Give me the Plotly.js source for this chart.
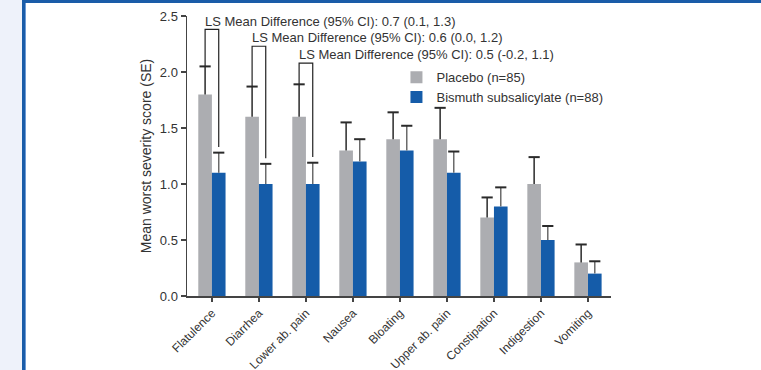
<!DOCTYPE html>
<html>
<head>
<meta charset="utf-8">
<script src="https://cdn.plot.ly/plotly-3.0.1.min.js"></script>
<style>
  html, body { margin: 0; padding: 0; background: #ffffff; }
  #wrap { position: relative; width: 761px; height: 370px; overflow: hidden; background: #ffffff; }
  #side { position: absolute; left: 0; top: 0; width: 22px; height: 370px; background: #eef2fa; }
  #bar1 { position: absolute; left: 22px; top: 0; width: 3px; height: 370px; background: #1a5ca8; }
  #bar2 { position: absolute; left: 25px; top: 0; width: 1px; height: 370px; background: #6d9bd6; }
  #topline { position: absolute; left: 22px; top: 0; width: 739px; height: 3px; background: #1a5ca8; }
  #chart { position: absolute; left: 0; top: 0; width: 761px; height: 370px; }
</style>
</head>
<body>
<div id="wrap">
  <div id="side"></div>
  <div id="bar1"></div>
  <div id="bar2"></div>
  <div id="topline"></div>
  <div id="chart"></div>
</div>
<script>
// ---- data ----
const categories = ["Flatulence", "Diarrhea", "Lower ab. pain", "Nausea", "Bloating",
                    "Upper ab. pain", "Constipation", "Indigestion", "Vomiting"];
const placeboName = "Placebo (n=85)";
const bssName = "Bismuth subsalicylate (n=88)";
const placeboMean = [1.8, 1.6, 1.6, 1.3, 1.4, 1.4, 0.7, 1.0, 0.3];
const placeboSE   = [0.25, 0.27, 0.29, 0.25, 0.24, 0.28, 0.18, 0.24, 0.16];
const bssMean     = [1.1, 1.0, 1.0, 1.2, 1.3, 1.1, 0.8, 0.5, 0.2];
const bssSE       = [0.18, 0.18, 0.19, 0.20, 0.22, 0.19, 0.17, 0.125, 0.11];
const diffIndex   = [0, 1, 2];
const diffLabels  = ["LS Mean Difference (95% CI): 0.7 (0.1, 1.3)",
                     "LS Mean Difference (95% CI): 0.6 (0.0, 1.2)",
                     "LS Mean Difference (95% CI): 0.5 (-0.2, 1.1)"];
const bracketTop  = [2.38, 2.23, 2.08];
const yTicks      = [0, 0.5, 1.0, 1.5, 2.0, 2.5];

// ---- styling ----
const FONT = "Arial, 'Liberation Sans', Helvetica, sans-serif";
const TXT = "#333333";
const bargap = 0.42;
const off = (1 - bargap) / 4;   // offset of each bar center from category center
const idx = categories.map((c, i) => i);

function errTrace(means, ses, sign, color) {
  const x = [], y = [];
  means.forEach((m, i) => {
    x.push(i + sign * off, i + sign * off, null);
    y.push(m, m + ses[i], null);
  });
  return { type: "scatter", mode: "lines", x, y, showlegend: false, hoverinfo: "skip",
           line: { color: color, width: 1.5 } };
}
function capTrace(means, ses, sign, color) {
  return { type: "scatter", mode: "markers", x: idx.map(i => i + sign * off),
           y: means.map((m, i) => m + ses[i]), showlegend: false, hoverinfo: "skip",
           marker: { symbol: "line-ew", size: 8, line: { color: color, width: 2 } } };
}

const traces = [
  { type: "bar", name: placeboName, x: idx, y: placeboMean, marker: { color: "#acadb1" } },
  { type: "bar", name: bssName, x: idx, y: bssMean, marker: { color: "#155ca9" } },
  errTrace(placeboMean, placeboSE, -1, "#2a2a2a"),
  errTrace(bssMean, bssSE, 1, "#6a6a6a"),
  capTrace(placeboMean, placeboSE, -1, "#2a2a2a"),
  capTrace(bssMean, bssSE, 1, "#2a2a2a")
];

// brackets
const bx = [], by = [];
diffIndex.forEach((ci, k) => {
  bx.push(ci - off, ci - off, ci + off, ci + off, null);
  by.push(placeboMean[ci] + placeboSE[ci], bracketTop[k], bracketTop[k],
          bssMean[ci] + bssSE[ci] + 0.05, null);
});
traces.push({ type: "scatter", mode: "lines", x: bx, y: by, showlegend: false, hoverinfo: "skip",
              line: { color: "#222222", width: 1.2 } });

const annotations = diffIndex.map((ci, k) => ({
  x: ci - off, y: bracketTop[k] + 0.075, xref: "x", yref: "y",
  text: diffLabels[k], showarrow: false, xanchor: "left", yanchor: "middle", xshift: -2,
  font: { family: FONT, size: 13, color: TXT }
}));

const layout = {
  width: 761, height: 370,
  paper_bgcolor: "rgba(0,0,0,0)", plot_bgcolor: "rgba(0,0,0,0)",
  margin: { l: 187, r: 150, t: 16, b: 74 },
  barmode: "group", bargap: bargap, bargroupgap: 0,
  font: { family: FONT, size: 13, color: TXT },
  showlegend: true,
  legend: { x: 0.494, y: 0.835, xanchor: "left", yanchor: "top", bgcolor: "rgba(0,0,0,0)",
            font: { family: FONT, size: 13, color: TXT }, itemwidth: 30, tracegroupgap: 0 },
  xaxis: {
    type: "linear", range: [-0.53, 8.49], tickmode: "array", tickvals: idx, ticktext: categories,
    tickangle: -45, ticks: "outside", ticklen: 4, tickwidth: 1.5, tickcolor: "#444",
    showline: true, linecolor: "#444", linewidth: 1.5, showgrid: false, zeroline: false,
    tickfont: { family: FONT, size: 12, color: TXT }, fixedrange: true
  },
  yaxis: {
    range: [0, 2.5], tickmode: "array", tickvals: yTicks, tickformat: ".1f",
    ticks: "outside", ticklen: 5, tickwidth: 1.5, tickcolor: "#444",
    showline: true, linecolor: "#444", linewidth: 1.5, showgrid: false, zeroline: false,
    tickfont: { family: FONT, size: 13, color: TXT }, fixedrange: true,
    title: { text: "Mean worst severity score (SE)", font: { family: FONT, size: 14, color: TXT }, standoff: 5 }
  },
  annotations: annotations
};

Plotly.newPlot("chart", traces, layout, { displayModeBar: false, staticPlot: true });
</script>
</body>
</html>
